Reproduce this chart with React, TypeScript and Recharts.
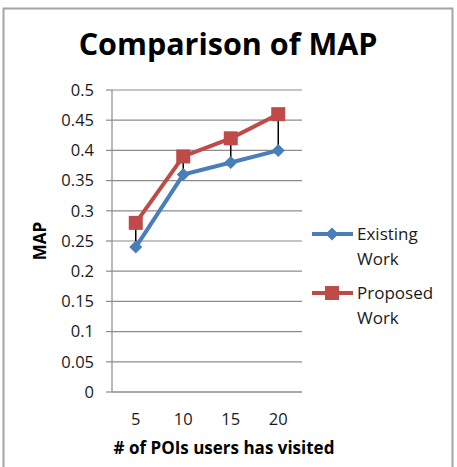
import React from 'react';
import { LineChart, Line, XAxis, YAxis, CartesianGrid, ErrorBar, Customized } from 'recharts';

// Number of POIs each user has visited
const poiCounts = [5, 10, 15, 20];
// MAP of the existing approach
const existingWork = [0.24, 0.36, 0.38, 0.4];
// MAP of the proposed approach
const proposedWork = [0.28, 0.39, 0.42, 0.46];
// Value axis ticks
const mapTicks = [0, 0.05, 0.1, 0.15, 0.2, 0.25, 0.3, 0.35, 0.4, 0.45, 0.5];

const BLUE = '#4A7EBB';
const RED = '#BE4B48';
const GRID = '#8c8c8c';
const FONT = '"Open Sans", Lato, sans-serif';

const data = poiCounts.map((n, i) => ({
  poi: n,
  existing: existingWork[i],
  proposed: proposedWork[i],
  // high-low span from the existing value up to the proposed value
  span: [0, +(proposedWork[i] - existingWork[i]).toFixed(4)],
}));

const Diamond = (props: any) => {
  const { cx, cy } = props;
  if (cx == null || cy == null) return null;
  const r = 6.5;
  return (
    <polygon
      points={`${cx},${cy - r} ${cx + r},${cy} ${cx},${cy + r} ${cx - r},${cy}`}
      fill={BLUE}
    />
  );
};

const Square = (props: any) => {
  const { cx, cy } = props;
  if (cx == null || cy == null) return null;
  const h = 7;
  return <rect x={cx - h} y={cy - h} width={h * 2} height={h * 2} fill={RED} />;
};

const Frame = () => (
  <rect x={3.5} y={8.5} width={449} height={470} fill="none" stroke="#a3a3a3" strokeWidth={2} />
);

const Title = () => (
  <text x={228} y={55} textAnchor="middle" fontFamily={FONT} fontWeight="bold" fontSize={30.5} fill="#000">
    Comparison of MAP
  </text>
);

const AxisTitles = () => (
  <g fontFamily={FONT} fontWeight="bold" fontSize={17} fill="#000">
    <text x={224} y={454} textAnchor="middle">
      # of POIs users has visited
    </text>
    <text x={46} y={241} textAnchor="middle" transform="rotate(-90 46 241)">
      MAP
    </text>
  </g>
);

const legendItems = [
  { lines: ['Existing', 'Work'], color: BLUE, marker: 'diamond', y: 234 },
  { lines: ['Proposed', 'Work'], color: RED, marker: 'square', y: 293 },
];

const LegendBox = () => (
  <g fontFamily={FONT} fontSize={17} fill="#1a1a1a">
    {legendItems.map((item) => (
      <g key={item.lines[0]}>
        <line x1={312} x2={353} y1={item.y} y2={item.y} stroke={item.color} strokeWidth={4} />
        {item.marker === 'diamond' ? (
          <Diamond cx={332} cy={item.y} />
        ) : (
          <Square cx={332} cy={item.y} />
        )}
        {item.lines.map((t, k) => (
          <text key={t} x={357} y={item.y + 6 + k * 25}>
            {t}
          </text>
        ))}
      </g>
    ))}
  </g>
);

export default function App() {
  return (
    <div style={{ position: 'absolute', left: 0, top: 0 }}>
      <LineChart
        width={457}
        height={467}
        data={data}
        margin={{ top: 90, right: 155, bottom: 0, left: 0 }}
        style={{ fontFamily: FONT, background: '#fff' }}
      >
        <CartesianGrid vertical={false} stroke={GRID} strokeWidth={1.2} />
        <XAxis
          dataKey="poi"
          height={75}
          padding={{ left: 23.75, right: 23.75 }}
          axisLine={{ stroke: GRID, strokeWidth: 1.2 }}
          tickLine={false}
          tickSize={0}
          tickMargin={21}
          tick={{ fill: '#1a1a1a', fontSize: 16.5, fontFamily: FONT }}
        />
        <YAxis
          width={112}
          domain={[0, 0.5]}
          ticks={mapTicks}
          interval={0}
          axisLine={{ stroke: GRID, strokeWidth: 1.2 }}
          tickLine={{ stroke: GRID, strokeWidth: 1.2 }}
          tickSize={6}
          tickMargin={12}
          tick={{ fill: '#1a1a1a', fontSize: 16.5, fontFamily: FONT }}
        />
        <Line
          dataKey="existing"
          stroke={BLUE}
          strokeWidth={4}
          dot={<Diamond />}
          activeDot={false}
          isAnimationActive={false}
        />
        <Line
          dataKey="proposed"
          stroke={RED}
          strokeWidth={4}
          dot={<Square />}
          activeDot={false}
          isAnimationActive={false}
        />
        {/* high-low lines joining the two series */}
        <Line
          dataKey="existing"
          stroke="none"
          dot={false}
          activeDot={false}
          legendType="none"
          isAnimationActive={false}
        >
          <ErrorBar dataKey="span" direction="y" width={0} stroke="#000" strokeWidth={1.5} />
        </Line>
        <Customized component={Frame} />
        <Customized component={Title} />
        <Customized component={AxisTitles} />
        <Customized component={LegendBox} />
      </LineChart>
    </div>
  );
}
